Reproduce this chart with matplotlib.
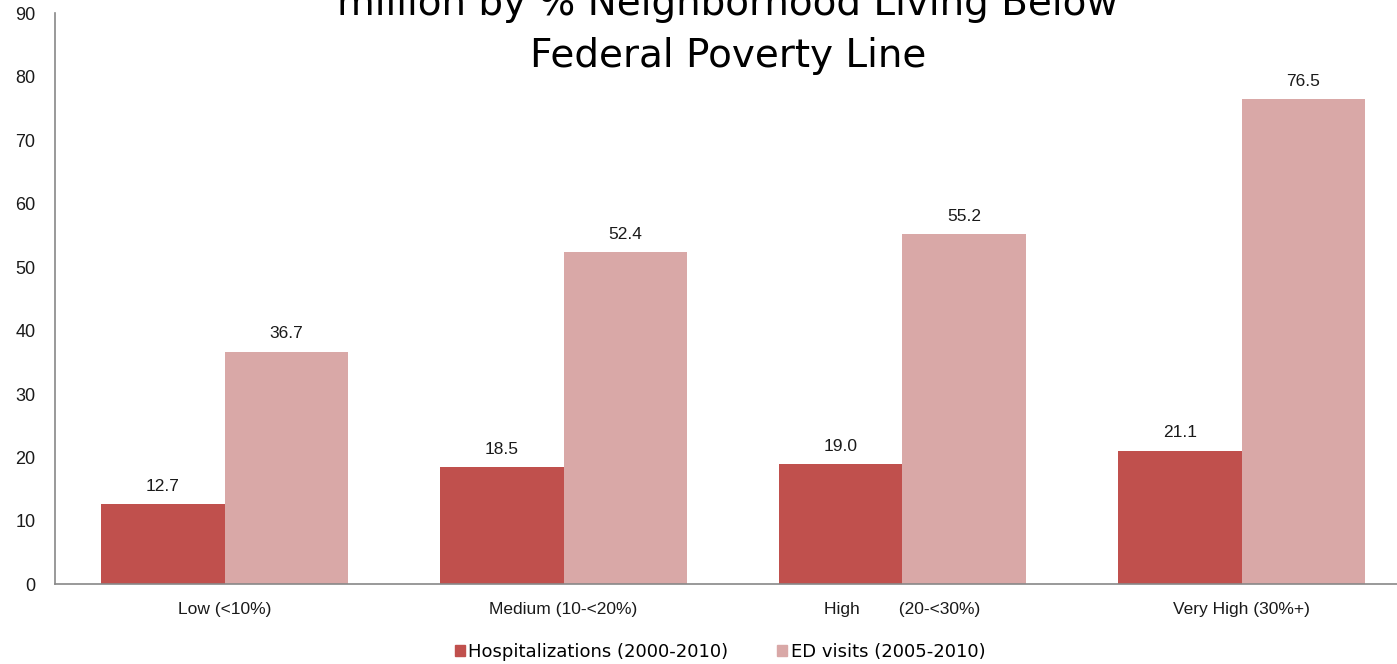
import matplotlib
matplotlib.use("Agg")
import matplotlib.pyplot as plt
import numpy as np
from matplotlib.patches import Patch

categories = ["Low (<10%)", "Medium (10-<20%)", "High        (20-<30%)", "Very High (30%+)"]
hosp = [12.7, 18.5, 19.0, 21.1]
ed = [36.7, 52.4, 55.2, 76.5]
series_names = ["Hospitalizations (2000-2010)", "ED visits (2005-2010)"]
yticks = [0, 10, 20, 30, 40, 50, 60, 70, 80, 90]

plt.rcParams['font.family'] = ['Liberation Sans', 'DejaVu Sans']

W, H = 1397, 664
fig = plt.figure(figsize=(W/100, H/100), dpi=100)
ax = fig.add_axes([55/W, (H-584.4)/H, (1411-55)/W, (584.4-13.5)/H])

c1 = "#C0504D"
c2 = "#D9A8A7"
x = np.arange(len(categories))
bw = 0.363
b1 = ax.bar(x - bw/2, hosp, bw, color=c1, label=series_names[0])
b2 = ax.bar(x + bw/2, ed, bw, color=c2, label=series_names[1])
for bars, vals in ((b1, hosp), (b2, ed)):
    for r, v in zip(bars, vals):
        ax.text(r.get_x() + r.get_width()/2, v + 1.6, f"{v:.1f}", ha="center",
                va="bottom", fontsize=12.5, color="#1a1a1a")

ax.set_xlim(-0.5, 3.5)
ax.set_ylim(0, 90)
ax.set_yticks(yticks)
ax.set_xticks(x)
ax.set_xticklabels(categories, fontsize=12.5)
ax.tick_params(axis='both', length=0, colors="#1a1a1a")
ax.tick_params(axis='x', pad=13)
ax.tick_params(axis='y', labelsize=13, pad=14)
for s in ("top", "right"):
    ax.spines[s].set_visible(False)
for s in ("left", "bottom"):
    ax.spines[s].set_color("#888888")
    ax.spines[s].set_linewidth(1.2)

fig.text(728/W, (H-15)/H, "million by % Neighborhood Living Below", ha="center",
         va="baseline", fontsize=28, color="black", family="DejaVu Sans")
fig.text(728/W, (H-67)/H, "Federal Poverty Line", ha="center",
         va="baseline", fontsize=28, color="black", family="DejaVu Sans")

handles = [Patch(color=c1, label=series_names[0]), Patch(color=c2, label=series_names[1])]
fig.legend(handles=handles, loc="center", bbox_to_anchor=(720/W, (H-652)/H), ncol=2,
           frameon=False, prop={"family": "DejaVu Sans", "size": 13},
           handlelength=0.55, handleheight=0.55,
           handletextpad=0.2, columnspacing=2.7)

fig.savefig("out.png", dpi=100)
